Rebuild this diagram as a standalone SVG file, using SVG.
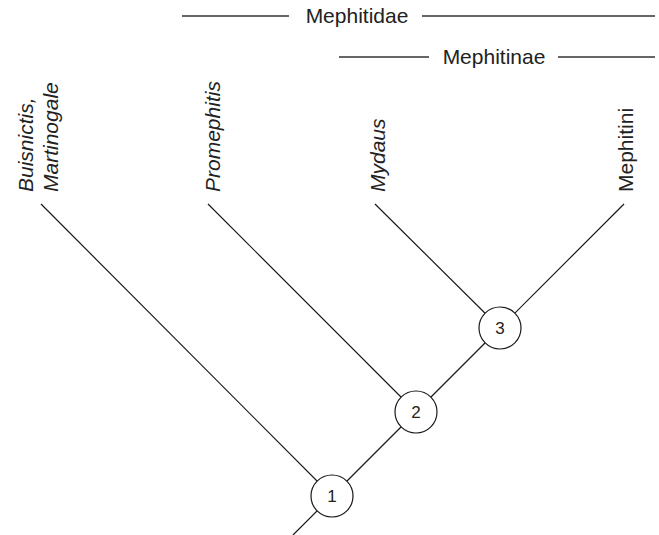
<svg xmlns="http://www.w3.org/2000/svg" width="659" height="535" viewBox="0 0 659 535">
  <style>
    .edge { stroke: #1a1a1a; stroke-width: 1.2; fill: none; }
    .bar { stroke: #333; stroke-width: 1.3; fill: none; }
    .node { fill: #fff; stroke: #1a1a1a; stroke-width: 1.2; }
    .num { font-family: "Liberation Sans", Arial, sans-serif; font-size: 17px; fill: #222; text-anchor: middle; }
    .taxon { font-family: "Liberation Sans", Arial, sans-serif; font-size: 21px; fill: #222; }
    .it { font-style: italic; }
    .grp { font-family: "Liberation Sans", Arial, sans-serif; font-size: 21px; fill: #222; text-anchor: middle; }
  </style>
  <rect width="659" height="535" fill="#fff"/>

  <!-- clade brackets -->
  <g id="clade-mephitidae">
    <line class="bar" x1="182" y1="16" x2="289" y2="16"/>
    <text class="grp" x="357" y="23">Mephitidae</text>
    <line class="bar" x1="422" y1="16" x2="655" y2="16"/>
  </g>
  <g id="clade-mephitinae">
    <line class="bar" x1="339" y1="57" x2="429" y2="57"/>
    <text class="grp" x="494" y="64">Mephitinae</text>
    <line class="bar" x1="558" y1="57" x2="655" y2="57"/>
  </g>

  <!-- branches -->
  <g id="connectors">
    <line class="edge" x1="293" y1="535" x2="332" y2="496"/>
    <line class="edge" x1="332" y1="496" x2="416" y2="412"/>
    <line class="edge" x1="416" y1="412" x2="500" y2="328"/>
    <line class="edge" x1="41" y1="204" x2="332" y2="496"/>
    <line class="edge" x1="208" y1="204" x2="416" y2="412"/>
    <line class="edge" x1="375" y1="204" x2="500" y2="328"/>
    <line class="edge" x1="624" y1="204" x2="500" y2="328"/>
  </g>

  <!-- tip labels -->
  <g id="tip-buisnictis">
    <text class="taxon it" transform="translate(33,192) rotate(-90)">Buisnictis,</text>
    <text class="taxon it" transform="translate(58,192) rotate(-90)">Martinogale</text>
  </g>
  <g id="tip-promephitis">
    <text class="taxon it" transform="translate(220,192) rotate(-90)">Promephitis</text>
  </g>
  <g id="tip-mydaus">
    <text class="taxon it" transform="translate(385,192) rotate(-90)">Mydaus</text>
  </g>
  <g id="tip-mephitini">
    <text class="taxon" transform="translate(633,192) rotate(-90)">Mephitini</text>
  </g>

  <!-- numbered nodes -->
  <g id="node-1">
    <circle class="node" cx="332" cy="496" r="21"/>
    <text class="num" x="332" y="502">1</text>
  </g>
  <g id="node-2">
    <circle class="node" cx="416" cy="412" r="21"/>
    <text class="num" x="416" y="418">2</text>
  </g>
  <g id="node-3">
    <circle class="node" cx="500" cy="328" r="21"/>
    <text class="num" x="500" y="334">3</text>
  </g>
</svg>
